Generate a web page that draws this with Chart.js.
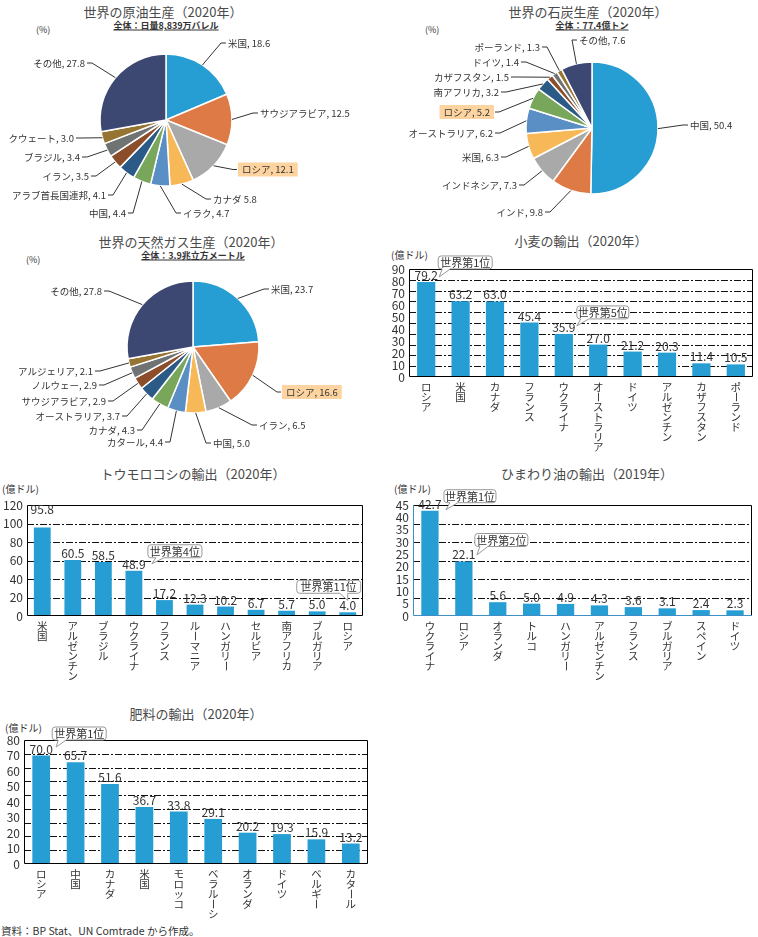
<!DOCTYPE html>
<html>
<head>
<meta charset="utf-8">
<script src="https://cdn.jsdelivr.net/npm/chart.js@4/dist/chart.umd.min.js"></script>
<style>
  body { margin: 0; width: 758px; height: 937px; position: relative; overflow: hidden; background: #fff;
         font-family: "Noto Sans CJK JP", "Noto Sans", sans-serif; color: #333; }
  canvas { position: absolute; }
  .t { position: absolute; white-space: nowrap; transform: translate(-50%, -50%); font-size: 13px; color: #4a4a4a; }
  .s { position: absolute; white-space: nowrap; transform: translate(-50%, -50%); font-size: 9px; font-weight: bold; text-decoration: underline; }
  .u { position: absolute; white-space: nowrap; transform: translateY(-50%); font-size: 9px; }
  .v { position: absolute; white-space: nowrap; transform: translateY(-50%); font-size: 10px; }
</style>
</head>
<body>
<div class="t" style="left:163px;top:11px">世界の原油生産（2020年）</div>
<div class="s" style="left:166px;top:25px">全体：日量8,839万バレル</div>
<div class="u" style="left:36px;top:29px">(%)</div>

<div class="t" style="left:588px;top:11px">世界の石炭生産（2020年）</div>
<div class="s" style="left:592px;top:25px">全体：77.4億トン</div>
<div class="u" style="left:425px;top:29px">(%)</div>

<div class="t" style="left:191px;top:241px">世界の天然ガス生産（2020年）</div>
<div class="s" style="left:193px;top:255px">全体：3.9兆立方メートル</div>
<div class="u" style="left:26px;top:259px">(%)</div>

<div class="t" style="left:581px;top:240px">小麦の輸出（2020年）</div>
<div class="v" style="left:391px;top:254px">(億ドル)</div>

<div class="t" style="left:193px;top:473px">トウモロコシの輸出（2020年）</div>
<div class="v" style="left:2px;top:488px">(億ドル)</div>

<div class="t" style="left:587px;top:473px">ひまわり油の輸出（2019年）</div>
<div class="v" style="left:394px;top:488px">(億ドル)</div>

<div class="t" style="left:196px;top:713px">肥料の輸出（2020年）</div>
<div class="v" style="left:5px;top:727px">(億ドル)</div>

<div class="v" style="left:1px;top:930px;font-size:10.5px">資料：BP Stat、UN Comtrade から作成。</div>

<script>
const FONT = '"Noto Sans CJK JP", "Noto Sans", sans-serif';
Chart.defaults.font.family = FONT;
Chart.defaults.color = '#333';
Chart.defaults.animation = false;

// data
const oilLabels = ['米国', 'サウジアラビア', 'ロシア', 'カナダ', 'イラク', '中国', 'アラブ首長国連邦', 'イラン', 'ブラジル', 'クウェート', 'その他'];
const oilShares = [18.6, 12.5, 12.1, 5.8, 4.7, 4.4, 4.1, 3.5, 3.4, 3.0, 27.8];

const coalLabels = ['中国', 'インド', 'インドネシア', '米国', 'オーストラリア', 'ロシア', '南アフリカ', 'カザフスタン', 'ドイツ', 'ポーランド', 'その他'];
const coalShares = [50.4, 9.8, 7.3, 6.3, 6.2, 5.2, 3.2, 1.5, 1.4, 1.3, 7.6];

const gasLabels = ['米国', 'ロシア', 'イラン', '中国', 'カタール', 'カナダ', 'オーストラリア', 'サウジアラビア', 'ノルウェー', 'アルジェリア', 'その他'];
const gasShares = [23.7, 16.6, 6.5, 5.0, 4.4, 4.3, 3.7, 2.9, 2.9, 2.1, 27.8];

const wheatCountries = ['ロシア', '米国', 'カナダ', 'フランス', 'ウクライナ', 'オーストラリア', 'ドイツ', 'アルゼンチン', 'カザフスタン', 'ポーランド'];
const wheatExports = [79.2, 63.2, 63.0, 45.4, 35.9, 27.0, 21.2, 20.3, 11.4, 10.5];

const cornCountries = ['米国', 'アルゼンチン', 'ブラジル', 'ウクライナ', 'フランス', 'ルーマニア', 'ハンガリー', 'セルビア', '南アフリカ', 'ブルガリア', 'ロシア'];
const cornExports = [95.8, 60.5, 58.5, 48.9, 17.2, 12.3, 10.2, 6.7, 5.7, 5.0, 4.0];

const sunflowerCountries = ['ウクライナ', 'ロシア', 'オランダ', 'トルコ', 'ハンガリー', 'アルゼンチン', 'フランス', 'ブルガリア', 'スペイン', 'ドイツ'];
const sunflowerExports = [42.7, 22.1, 5.6, 5.0, 4.9, 4.3, 3.6, 3.1, 2.4, 2.3];

const fertilizerCountries = ['ロシア', '中国', 'カナダ', '米国', 'モロッコ', 'ベラルーシ', 'オランダ', 'ドイツ', 'ベルギー', 'カタール'];
const fertilizerExports = [70.0, 65.7, 51.6, 36.7, 33.8, 29.1, 20.2, 19.3, 15.9, 13.2];

// styles
const pieColors = ['#279ed3', '#dd7a46', '#a9a9a9', '#f7b957', '#5a8fc6', '#78a65a', '#2c5a86', '#8c4d2a', '#707373', '#967432', '#3c4872'];
const BAR = '#279ed3';

// label placement around pies: [dx, dy from centre, side, separator]
const oilLabelPos = [[62, -77, 'l'], [94, -7, 'l'], [72, 49.5, 'l'], [47, 79, 'l', ' '], [17, 93, 'l'], [-40, 93, 'r'],
  [-60, 75, 'r'], [-77, 56, 'r'], [-86, 37, 'r'], [-92, 18, 'r'], [-81, -57, 'r']];
const coalLabelPos = [[98, -3, 'l'], [-49, 84, 'r'], [-75, 57, 'r'], [-93, 29, 'r'], [-99, 5, 'r'], [-98, -16, 'r'],
  [-93, -36, 'r'], [-83, -51, 'r'], [-73, -66, 'r'], [-52, -81, 'r'], [-13, -88, 'l']];
const gasLabelPos = [[78, -58, 'l'], [89, 45, 'l'], [66, 78, 'l'], [20, 96, 'l'], [-30, 95, 'r'], [-58, 83, 'r'],
  [-73, 69, 'r'], [-87, 54, 'r'], [-96, 38, 'r'], [-100, 24, 'r'], [-91, -56, 'r']];

const pieLabels = {
  id: 'pieLabels',
  afterDatasetsDraw(chart, args, opts) {
    const ctx = chart.ctx;
    const meta = chart.getDatasetMeta(0);
    const labels = chart.data.labels;
    const values = chart.data.datasets[0].data;
    ctx.save();
    ctx.font = '9.5px ' + FONT;
    ctx.textBaseline = 'middle';
    meta.data.forEach((arc, i) => {
      const p = opts.pos[i];
      const mid = (arc.startAngle + arc.endAngle) / 2;
      const sx = arc.x + Math.cos(mid) * arc.outerRadius;
      const sy = arc.y + Math.sin(mid) * arc.outerRadius;
      const tx = arc.x + p[0], ty = arc.y + p[1];
      const left = p[2] === 'l';
      const text = labels[i] + (p[3] || ', ') + values[i].toFixed(1);
      const w = ctx.measureText(text).width;
      let textX = tx, endX = left ? tx - 2 : tx + 2, elbowX = left ? tx - 7 : tx + 7;
      if (opts.highlight === i) {
        ctx.fillStyle = '#fdd4a0';
        ctx.fillRect(left ? tx : tx - w - 8, ty - 7, w + 8, 14);
        textX = left ? tx + 4 : tx - 4;
        endX = left ? tx - 1 : tx + 1;
        elbowX = left ? tx - 5 : tx + 5;
      }
      ctx.strokeStyle = '#333';
      ctx.lineWidth = 1;
      ctx.beginPath();
      ctx.moveTo(sx, sy);
      ctx.lineTo(elbowX, ty);
      ctx.lineTo(endX, ty);
      ctx.stroke();
      ctx.fillStyle = '#333';
      ctx.textAlign = left ? 'left' : 'right';
      ctx.fillText(text, textX, ty);
    });
    ctx.restore();
  }
};

const barDecor = {
  id: 'barDecor',
  beforeDatasetsDraw(chart, args, o) {
    const {ctx, chartArea: a} = chart;
    ctx.save();
    ctx.strokeStyle = '#111';
    ctx.lineWidth = 1;
    ctx.setLineDash([7, 2, 2, 2]);
    for (let k = 1; k < o.gridDiv; k++) {
      const y = Math.round(a.bottom - (a.bottom - a.top) * k / o.gridDiv) + 0.5;
      ctx.beginPath();
      ctx.moveTo(a.left, y);
      ctx.lineTo(a.right, y);
      ctx.stroke();
    }
    ctx.restore();
  },
  afterDatasetsDraw(chart, args, o) {
    const {ctx, chartArea: a} = chart;
    const meta = chart.getDatasetMeta(0);
    const values = chart.data.datasets[0].data;
    const labels = chart.data.labels;
    ctx.save();
    // frame
    const L = Math.round(a.left) + 0.5, R = Math.round(a.right) - 0.5;
    const T = Math.round(a.top) + 0.5, B = Math.round(a.bottom) - 0.5;
    ctx.lineWidth = 1;
    ctx.strokeStyle = '#000';
    ctx.beginPath(); ctx.moveTo(L, T); ctx.lineTo(R, T); ctx.lineTo(R, B); ctx.stroke();
    ctx.strokeStyle = o.axisColor || '#000';
    ctx.beginPath(); ctx.moveTo(L, T); ctx.lineTo(L, B); ctx.lineTo(R, B); ctx.stroke();

    // value labels
    ctx.fillStyle = '#333';
    ctx.font = '12px ' + FONT;
    ctx.textAlign = 'center';
    ctx.textBaseline = 'alphabetic';
    meta.data.forEach((bar, i) => {
      const lift = (o.lift && o.lift[i]) || 0;
      ctx.fillText(values[i].toFixed(1), bar.x, bar.y - 2 - lift);
    });

    // vertical category names
    ctx.font = '10.5px ' + FONT;
    ctx.textBaseline = 'middle';
    const xs = chart.scales.x;
    labels.forEach((lab, i) => {
      const x = xs.getPixelForValue(i);
      Array.from(lab).forEach((ch, k) => {
        const y = a.bottom + 10 + k * 10;
        if (ch === 'ー') {
          ctx.save();
          ctx.translate(x, y);
          ctx.rotate(Math.PI / 2);
          ctx.fillText(ch, 0, 0);
          ctx.restore();
        } else {
          ctx.fillText(ch, x, y);
        }
      });
    });

    // callouts
    (o.callouts || []).forEach(c => {
      const bar = meta.data[c.i];
      const bx = bar.x + c.dx, by = bar.y + c.dy, w = c.w, h = 13, r = 3;
      const tipX = bar.x + c.tx, tipY = bar.y + c.ty;
      ctx.beginPath();
      ctx.moveTo(bx + r, by);
      ctx.arcTo(bx + w, by, bx + w, by + h, r);
      ctx.arcTo(bx + w, by + h, bx, by + h, r);
      ctx.lineTo(bx + c.b1, by + h);
      ctx.lineTo(tipX, tipY);
      ctx.lineTo(bx + c.b0, by + h);
      ctx.arcTo(bx, by + h, bx, by, r);
      ctx.arcTo(bx, by, bx + w, by, r);
      ctx.closePath();
      ctx.fillStyle = '#fff';
      ctx.fill();
      ctx.strokeStyle = '#999';
      ctx.lineWidth = 1;
      ctx.stroke();
      ctx.fillStyle = '#333';
      ctx.font = '11px ' + FONT;
      ctx.textAlign = 'center';
      ctx.textBaseline = 'middle';
      ctx.fillText(c.text, bx + w / 2, by + h / 2 + 0.5);
    });
    ctx.restore();
  }
};

function makeCanvas(x, y, w, h) {
  const c = document.createElement('canvas');
  c.width = w; c.height = h;
  c.style.left = x + 'px'; c.style.top = y + 'px';
  c.style.width = w + 'px'; c.style.height = h + 'px';
  document.body.appendChild(c);
  return c;
}

function pieChart(box, geo, labels, values, pos, highlight) {
  const canvas = makeCanvas(box[0], box[1], box[2], box[3]);
  const size = geo.r * 2 + 1.5;
  const left = geo.cx - box[0] - size / 2;
  const top = geo.cy - box[1] - size / 2;
  return new Chart(canvas, {
    type: 'pie',
    data: {
      labels: labels,
      datasets: [{ data: values, backgroundColor: pieColors, borderColor: '#fff', borderWidth: 1.5 }]
    },
    options: {
      responsive: false,
      events: [],
      layout: { padding: { left: left, top: top, right: box[2] - left - size, bottom: box[3] - top - size } },
      plugins: {
        legend: { display: false },
        tooltip: { enabled: false },
        pieLabels: { pos: pos, highlight: highlight }
      }
    },
    plugins: [pieLabels]
  });
}

function barChart(geo, labels, values, cfg) {
  const YW = 28, PT = 24, PR = 6, XH = 84;
  const canvas = makeCanvas(geo.l - YW, geo.t - PT, geo.r - geo.l + YW + PR, geo.b - geo.t + PT + XH);
  return new Chart(canvas, {
    type: 'bar',
    data: {
      labels: labels,
      datasets: [{ data: values, backgroundColor: BAR, barPercentage: cfg.barPct, categoryPercentage: 1 }]
    },
    options: {
      responsive: false,
      events: [],
      layout: { padding: { top: PT, right: PR, left: 0, bottom: 0 } },
      scales: {
        x: {
          ticks: { display: false },
          grid: { display: false, drawTicks: false },
          border: { display: false },
          afterFit(s) { s.height = XH; }
        },
        y: {
          min: 0,
          max: cfg.max,
          ticks: { stepSize: cfg.step, autoSkip: false, font: { size: 12 }, color: '#333', padding: 4 },
          grid: { display: false, drawTicks: false },
          border: { display: false },
          afterFit(s) { s.width = YW; }
        }
      },
      plugins: {
        legend: { display: false },
        tooltip: { enabled: false },
        barDecor: cfg
      }
    },
    plugins: [barDecor]
  });
}

pieChart([0, 0, 380, 228], { cx: 166, cy: 120, r: 66 }, oilLabels, oilShares, oilLabelPos, 2);
pieChart([380, 0, 378, 228], { cx: 592, cy: 128, r: 66 }, coalLabels, coalShares, coalLabelPos, 5);
pieChart([0, 228, 380, 230], { cx: 193, cy: 347, r: 66 }, gasLabels, gasShares, gasLabelPos, 1);

barChart({ l: 409, r: 753, t: 269, b: 377 }, wheatCountries, wheatExports, {
  max: 90, step: 10, gridDiv: 10, barPct: 0.53,
  callouts: [
    { i: 0, dx: 12, dy: -26, w: 54, b0: 4, b1: 12, tx: 13, ty: -5, text: '世界第1位' },
    { i: 4, dx: 13, dy: -28, w: 52, b0: 4, b1: 12, tx: 13, ty: -8, text: '世界第5位' }
  ]
});

barChart({ l: 27, r: 363, t: 505, b: 616 }, cornCountries, cornExports, {
  max: 120, step: 20, gridDiv: 6, barPct: 0.55, lift: { 0: 11 },
  callouts: [
    { i: 3, dx: 14, dy: -26, w: 54, b0: 8, b1: 16, tx: 18, ty: -7, text: '世界第4位' },
    { i: 10, dx: -51, dy: -32, w: 64, b0: 43, b1: 51, tx: 0, ty: -12, text: '世界第11位' }
  ]
});

barChart({ l: 413, r: 752, t: 505, b: 616 }, sunflowerCountries, sunflowerExports, {
  max: 45, step: 5, gridDiv: 6, barPct: 0.51, axisColor: '#3d8fc6',
  callouts: [
    { i: 0, dx: 14, dy: -21, w: 52, b0: 6, b1: 14, tx: 16, ty: -1, text: '世界第1位' },
    { i: 1, dx: 11, dy: -28, w: 53, b0: 5, b1: 13, tx: 13, ty: -6.5, text: '世界第2位' }
  ]
});

barChart({ l: 24, r: 368, t: 740, b: 864 }, fertilizerCountries, fertilizerExports, {
  max: 80, step: 10, gridDiv: 9, barPct: 0.515,
  callouts: [
    { i: 0, dx: 11, dy: -28.5, w: 54, b0: 6, b1: 14, tx: 15, ty: -8.5, text: '世界第1位' }
  ]
});
</script>
</body>
</html>
